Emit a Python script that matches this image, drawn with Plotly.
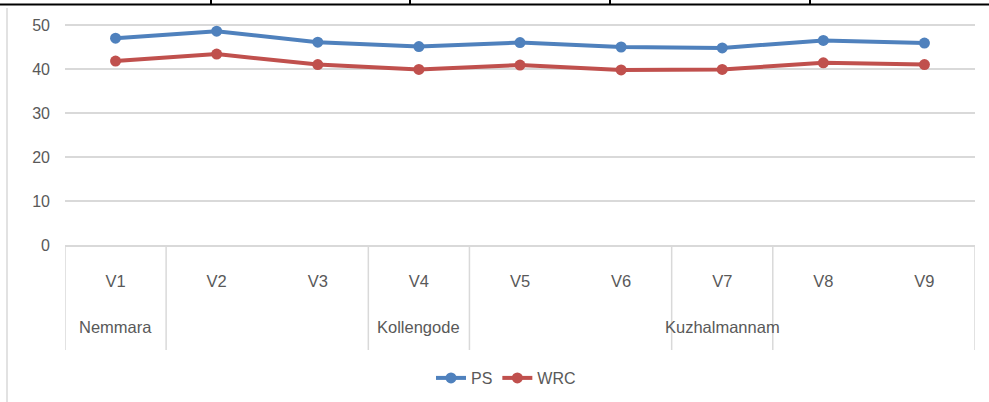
import plotly.graph_objects as go

categories = ["V1", "V2", "V3", "V4", "V5", "V6", "V7", "V8", "V9"]
groups = ["Nemmara", "", "", "Kollengode", "", "", "Kuzhalmannam", "", ""]
ps = [47.0, 48.6, 46.1, 45.1, 46.0, 45.0, 44.8, 46.5, 45.9]
wrc = [41.8, 43.4, 41.0, 39.9, 40.9, 39.8, 39.9, 41.4, 41.0]
y_ticks = [0, 10, 20, 30, 40, 50]

W, H = 989, 402
L, R, T, B = 65, 975, 15, 245  # plot area in pixels

def px_x(p):
    return (p - L) / (R - L)

def px_y(p):
    return (B - p) / (B - T)

FONT = "Liberation Sans, Arial, sans-serif"
TXT = "#595959"
GRID = "#d9d9d9"

fig = go.Figure()
fig.add_trace(go.Scatter(x=categories, y=ps, name="PS", mode="lines+markers",
                         line=dict(color="#4F81BD", width=4),
                         marker=dict(color="#4F81BD", size=11)))
fig.add_trace(go.Scatter(x=categories, y=wrc, name="WRC", mode="lines+markers",
                         line=dict(color="#C0504D", width=4),
                         marker=dict(color="#C0504D", size=11)))

shapes = []
seps = []
for i, g in enumerate(groups):
    if g:
        seps += [i - 0.5, i + 0.5]
seps.append(len(categories) - 0.5)
for s in sorted(set(seps)):
    shapes.append(dict(type="line", xref="x", yref="paper", x0=s, x1=s,
                       y0=0, y1=px_y(350), line=dict(color=GRID, width=1.5)))
shapes.append(dict(type="line", xref="paper", yref="paper", x0=px_x(0), x1=px_x(989),
                   y0=px_y(4.5), y1=px_y(4.5), line=dict(color="black", width=2)))
for xp in [211, 410, 610, 810]:
    shapes.append(dict(type="line", xref="paper", yref="paper", x0=px_x(xp), x1=px_x(xp),
                       y0=px_y(0), y1=px_y(4.5), line=dict(color="black", width=2)))
shapes.append(dict(type="line", xref="paper", yref="paper", x0=px_x(7), x1=px_x(7),
                   y0=px_y(8), y1=px_y(402), line=dict(color=GRID, width=1.5)))

annotations = []
for i, g in enumerate(groups):
    if g:
        annotations.append(dict(x=categories[i], y=px_y(327), xref="x", yref="paper",
                                text=g, showarrow=False, yanchor="middle",
                                font=dict(family=FONT, size=16.5, color=TXT)))

fig.update_layout(
    width=W, height=H,
    margin=dict(l=L, r=W - R, t=T, b=H - B),
    paper_bgcolor="white", plot_bgcolor="white",
    font=dict(family=FONT, size=16, color=TXT),
    showlegend=True,
    legend=dict(orientation="h", xref="container", yref="container",
                x=506 / W, xanchor="center", y=1 - 378 / H, yanchor="middle",
                font=dict(family=FONT, size=16, color=TXT)),
    xaxis=dict(type="category", range=[-0.5, len(categories) - 0.5], showgrid=False,
               showline=True, linecolor=GRID, linewidth=1.5, ticks="",
               ticklabelstandoff=20, tickfont=dict(family=FONT, size=16.5, color=TXT),
               zeroline=False),
    yaxis=dict(range=[0, (B - T) / 4.4], tickvals=y_ticks, showgrid=True, gridcolor=GRID,
               gridwidth=1.5, showline=False, zeroline=False, ticks="",
               ticklabelstandoff=14, tickfont=dict(family=FONT, size=16, color=TXT)),
    shapes=shapes,
    annotations=annotations,
)

fig.write_html("out.html", config={"displayModeBar": False},
               post_script="document.body.style.margin='0';document.body.style.overflow='hidden';")
